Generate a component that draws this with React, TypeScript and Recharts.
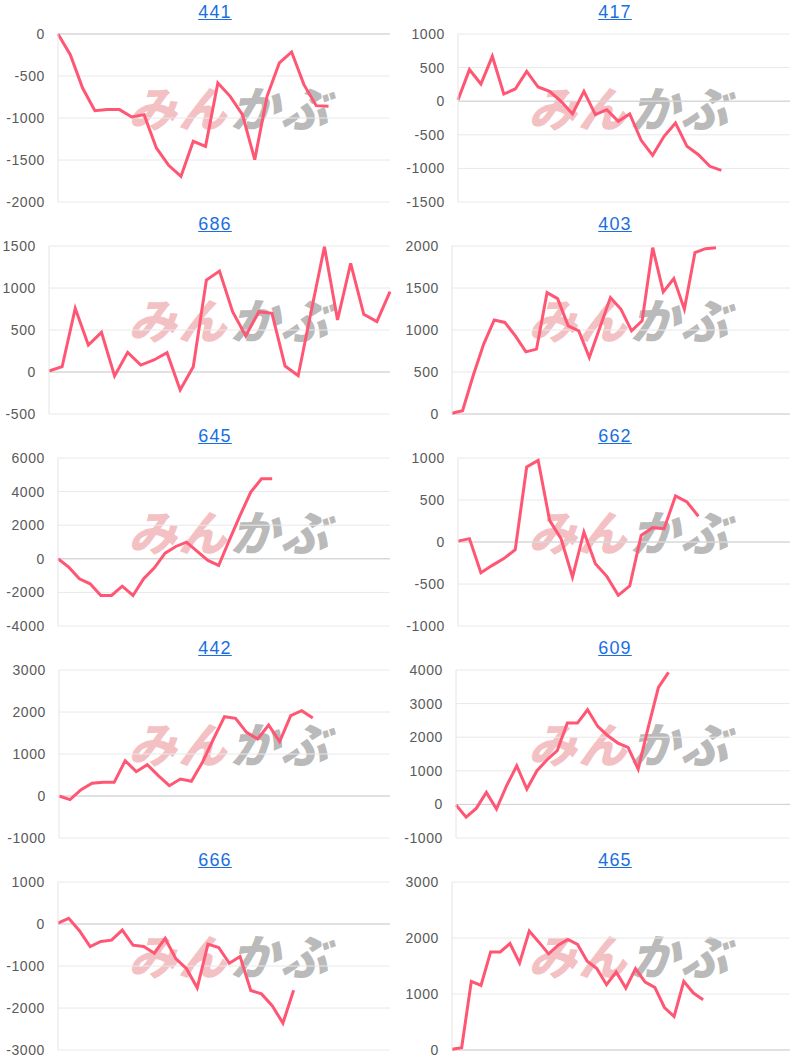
import React from 'react';
import { LineChart, Line, XAxis, YAxis, CartesianGrid, ReferenceLine } from 'recharts';

// ---- data ----
const titles = ['441', '417', '686', '403', '645', '662', '442', '609', '666', '465'];

const v441 = [0, -246, -643, -913, -900, -900, -988, -960, -1357, -1563, -1694, -1278, -1337, -583, -742, -960, -1496, -742, -345, -214, -603, -853, -861];
const v417 = [20, 470, 256, 668, 107, 182, 444, 211, 147, -2, -190, 147, -200, -126, -300, -190, -582, -805, -523, -324, -671, -796, -969, -1030];
const v686 = [12, 63, 758, 321, 472, -48, 234, 83, 143, 230, -214, 63, 1095, 1202, 718, 429, 718, 698, 71, -44, 730, 1490, 619, 1294, 687, 600, 957];
const v403 = [8, 40, 455, 832, 1120, 1090, 930, 740, 772, 1445, 1374, 1050, 990, 673, 1030, 1386, 1247, 990, 1109, 1980, 1453, 1612, 1247, 1920, 1968, 1980];
const v645 = [0, -496, -1190, -1488, -2182, -2182, -1627, -2182, -1190, -536, 337, 734, 992, 436, -99, -397, 1110, 2580, 3968, 4760, 4760];
const v662 = [10, 40, -365, -278, -198, -91, 893, 972, 258, 40, -417, 119, -258, -409, -635, -524, 79, 171, 159, 548, 476, 306];
const v442 = [0, -87, 151, 302, 325, 325, 841, 579, 746, 484, 246, 405, 349, 802, 1357, 1889, 1849, 1516, 1357, 1690, 1294, 1913, 2032, 1857];
const v609 = [-20, -380, -119, 357, -139, 556, 1151, 456, 1002, 1329, 1597, 2420, 2420, 2817, 2321, 2044, 1825, 1696, 1050, 2300, 3482, 3929];
const v666 = [20, 136, -160, -536, -416, -384, -144, -504, -536, -696, -344, -824, -1064, -1520, -480, -560, -936, -776, -1584, -1664, -1944, -2360, -1576];
const v465 = [12, 42, 1226, 1154, 1752, 1752, 1902, 1555, 2123, 1926, 1716, 1872, 1973, 1884, 1585, 1453, 1166, 1393, 1106, 1453, 1214, 1118, 759, 598, 1226, 1017, 897];

const seriesValues = [v441, v417, v686, v403, v645, v662, v442, v609, v666, v465];

// number of x slots (days) on each chart's horizontal axis
const xSlots = [27, 29, 26, 32, 31, 29, 30, 33, 31, 35];

const t441 = [-2000, -1500, -1000, -500, 0];
const t417 = [-1500, -1000, -500, 0, 500, 1000];
const t686 = [-500, 0, 500, 1000, 1500];
const t403 = [0, 500, 1000, 1500, 2000];
const t645 = [-4000, -2000, 0, 2000, 4000, 6000];
const t662 = [-1000, -500, 0, 500, 1000];
const t442 = [-1000, 0, 1000, 2000, 3000];
const t609 = [-1000, 0, 1000, 2000, 3000, 4000];
const t666 = [-3000, -2000, -1000, 0, 1000];
const t465 = [0, 1000, 2000, 3000];

const tickSets = [t441, t417, t686, t403, t645, t662, t442, t609, t666, t465];

// ---- layout ----
const axisWidths = [58, 58, 49, 52, 58, 58, 59, 56, 58, 52];
const PANEL_W = 400;
const PANEL_H = 212;
const LINE_COLOR = '#ff5674';

function Watermark() {
  const base: React.CSSProperties = {
    position: 'absolute',
    top: 78,
    fontFamily: '"Noto Sans CJK JP", sans-serif',
    fontWeight: 900,
    fontSize: 48,
    lineHeight: '56px',
    letterSpacing: 2,
    transform: 'skewX(-16deg)',
    whiteSpace: 'nowrap',
  };
  return (
    <>
      <div style={{ ...base, left: 134, color: 'rgba(232, 130, 136, 0.5)' }}>みん</div>
      <div style={{ ...base, left: 236, color: 'rgba(140, 140, 140, 0.6)' }}>かぶ</div>
    </>
  );
}

function Panel({ idx }: { idx: number }) {
  const values = seriesValues[idx];
  const ticks = tickSets[idx];
  const data = values.map((v, i) => ({ x: i, y: v }));
  const col = idx % 2;
  const row = Math.floor(idx / 2);
  const yMin = ticks[0];
  const yMax = ticks[ticks.length - 1];
  return (
    <div
      style={{
        position: 'absolute',
        left: col * PANEL_W,
        top: row * PANEL_H,
        width: PANEL_W,
        height: PANEL_H,
      }}
    >
      <Watermark />
      <div
        style={{
          position: 'absolute',
          left: 165,
          top: 1,
          width: 100,
          textAlign: 'center',
          fontFamily: 'Arial, "Liberation Sans", sans-serif',
          fontSize: 18,
          lineHeight: '22px',
          letterSpacing: 1.2,
          color: '#1a6fe0',
          textDecoration: 'underline',
        }}
      >
        {titles[idx]}
      </div>
      <div style={{ position: 'absolute', left: 0, top: 0 }}>
        <LineChart
          width={PANEL_W}
          height={PANEL_H}
          data={data}
          margin={{ top: 34, right: 10, bottom: 10, left: 0 }}
        >
          <CartesianGrid horizontal vertical={false} stroke="#e8e8e8" />
          <XAxis type="number" dataKey="x" domain={[0, xSlots[idx]]} hide />
          <YAxis
            width={axisWidths[idx]}
            domain={[yMin, yMax]}
            ticks={ticks}
            interval={0}
            tickLine={false}
            axisLine={{ stroke: '#e4e4e4' }}
            tickMargin={7}
            tick={{
              fill: '#5a5a5a',
              fontSize: 14,
              fontFamily: 'Arial, "Liberation Sans", sans-serif',
              letterSpacing: 0.6,
            }}
          />
          <ReferenceLine y={0} stroke="#cfcfcf" />
          <Line
            type="linear"
            dataKey="y"
            stroke={LINE_COLOR}
            strokeWidth={3}
            dot={false}
            isAnimationActive={false}
          />
        </LineChart>
      </div>
    </div>
  );
}

export default function App() {
  return (
    <div
      style={{
        position: 'absolute',
        left: 0,
        top: 0,
        width: 800,
        height: 1060,
        background: '#ffffff',
        overflow: 'hidden',
      }}
    >
      {titles.map((_, i) => (
        <Panel key={i} idx={i} />
      ))}
    </div>
  );
}
